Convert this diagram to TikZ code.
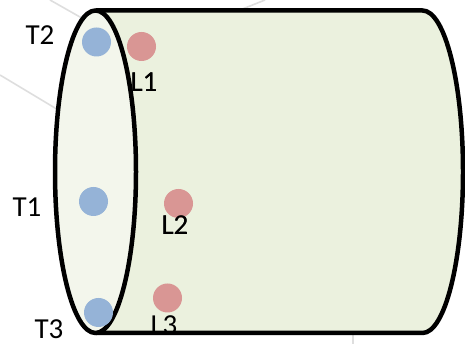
\documentclass[tikz,border=0pt]{standalone}
\usepackage{fontspec}
\setmainfont{Carlito}
\usepackage{tikz}
\usetikzlibrary{positioning}
\usepackage{xcolor}
\definecolor{dotblue}{RGB}{149,179,215}
\definecolor{dotred}{RGB}{217,150,148}
\definecolor{bodygreen}{RGB}{235,241,222}
\definecolor{facegreen}{RGB}{243,246,236}
\definecolor{bggray}{RGB}{222,222,222}
\tikzset{
  tx/.style={circle, fill=dotblue, minimum size=29pt, inner sep=0pt},
  rx/.style={circle, fill=dotred, minimum size=29pt, inner sep=0pt},
  lbl/.style={inner sep=0pt, font=\fontsize{29}{30}\selectfont},
  outline/.style={draw=black, line width=4.5pt, line join=round},
  bgline/.style={draw=bggray, line width=1.6pt},
}
\begin{document}
\begin{tikzpicture}[x=1pt, y=1pt]
\useasboundingbox (0,0) rectangle (465,344);
% faint background lines
\draw[bgline] (50,344) -- (110,310);
\draw[bgline] (0,269) -- (80,221);
\draw[bgline] (265,344) -- (230,330);
\draw[bgline] (353,10) -- (353,0);
% cylinder body
\fill[bodygreen] (95.5,333.5) -- (422.5,333.5)
  arc[start angle=90, end angle=-90, x radius=40.5, y radius=161.25]
  -- (95.5,11) -- cycle;
% labels (L3 sits under the outline)
\node[lbl] (lT2) at (40,309) {T2};
\node[lbl] (lL1) at (144,262) {L1};
\node[lbl] (lT1) at (27,137) {T1};
\node[lbl] (lL2) at (175,119) {L2};
\node[lbl] (lL3) at (164,19) {L3};
\node[lbl] (lT3) at (49,14.5) {T3};
% outline of the body
\draw[outline] (95.5,333.5) -- (422.5,333.5)
  arc[start angle=90, end angle=-90, x radius=40.5, y radius=161.25]
  -- (95.5,11);
% front face
\filldraw[outline, fill=facegreen] (95.5,172.25) ellipse[x radius=40.5, y radius=161.25];
% dots
\node[tx] (T2) at (96.5,302) {};
\node[tx] (T1) at (93.5,142.5) {};
\node[tx] (T3) at (98.5,31.5) {};
\node[rx] (L1) at (141.5,297.5) {};
\node[rx] (L2) at (178.5,140.5) {};
\node[rx] (L3) at (167.5,46) {};
% redraw the labels that lie over the dots
\node[lbl] at (lL1) {L1};
\node[lbl] at (lL2) {L2};
\end{tikzpicture}
\end{document}
